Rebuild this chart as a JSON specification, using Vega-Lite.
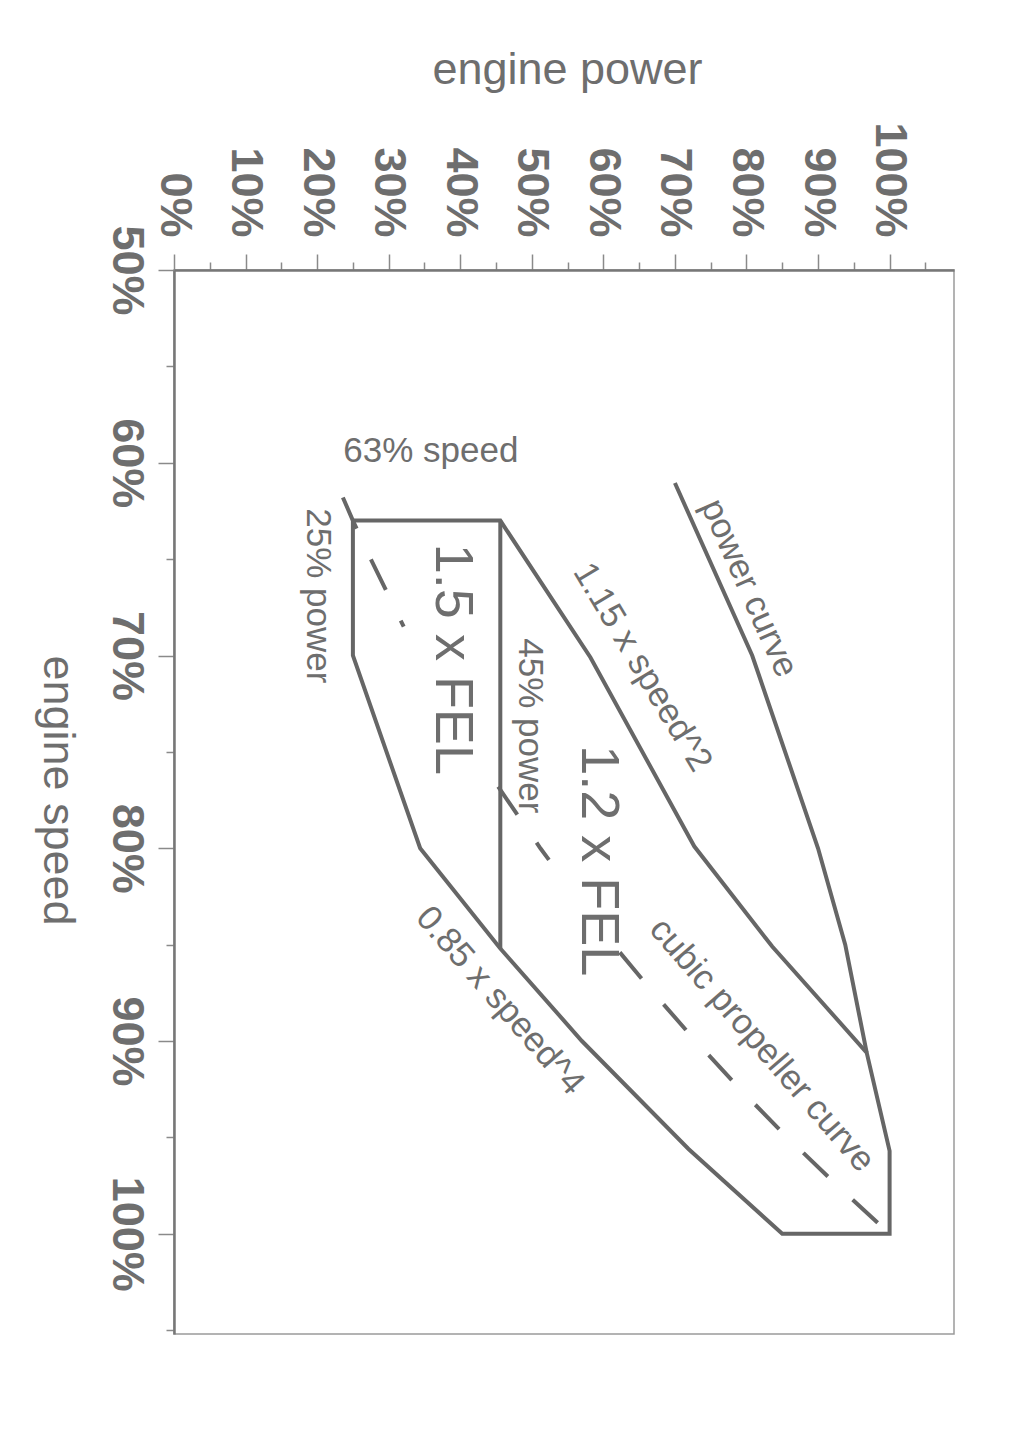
{
  "$schema": "https://vega.github.io/schema/vega-lite/v6.json",
  "width": 780,
  "height": 1064,
  "autosize": "none",
  "padding": {"left": 174, "top": 270, "right": 58, "bottom": 118},
  "background": "white",
  "config": {"view": {"stroke": "#9a9a9a", "strokeWidth": 1.5}, "font": "Liberation Sans"},
  "datasets": {
    "curves": [
      {"series": "power curve", "part": 1, "i": 0, "speed": 61.05, "power": 70.0},
      {"series": "power curve", "part": 1, "i": 1, "speed": 70, "power": 80.8},
      {"series": "power curve", "part": 1, "i": 2, "speed": 80, "power": 90.0},
      {"series": "power curve", "part": 1, "i": 3, "speed": 85, "power": 93.8},
      {"series": "power curve", "part": 1, "i": 4, "speed": 90.6, "power": 96.8},
      {"series": "FEL zone outline", "part": 1, "i": 0, "speed": 63, "power": 25},
      {"series": "FEL zone outline", "part": 1, "i": 1, "speed": 63, "power": 45.6},
      {"series": "FEL zone outline", "part": 1, "i": 2, "speed": 70.1, "power": 58.2},
      {"series": "FEL zone outline", "part": 1, "i": 3, "speed": 79.9, "power": 72.7},
      {"series": "FEL zone outline", "part": 1, "i": 4, "speed": 85.1, "power": 83.6},
      {"series": "FEL zone outline", "part": 1, "i": 5, "speed": 90.6, "power": 96.8},
      {"series": "FEL zone outline", "part": 1, "i": 6, "speed": 95.7, "power": 100},
      {"series": "FEL zone outline", "part": 1, "i": 7, "speed": 100, "power": 100},
      {"series": "FEL zone outline", "part": 1, "i": 8, "speed": 100, "power": 85},
      {"series": "FEL zone outline", "part": 1, "i": 9, "speed": 95.6, "power": 71.9},
      {"series": "FEL zone outline", "part": 1, "i": 10, "speed": 90, "power": 57.0},
      {"series": "FEL zone outline", "part": 1, "i": 11, "speed": 85.2, "power": 45.6},
      {"series": "FEL zone outline", "part": 1, "i": 12, "speed": 80, "power": 34.4},
      {"series": "FEL zone outline", "part": 1, "i": 13, "speed": 70, "power": 25},
      {"series": "FEL zone outline", "part": 1, "i": 14, "speed": 63, "power": 25},
      {"series": "45% power", "part": 1, "i": 0, "speed": 63, "power": 45.6},
      {"series": "45% power", "part": 1, "i": 1, "speed": 85.2, "power": 45.6},
      {"series": "cubic propeller curve", "part": 1, "i": 0, "speed": 61.8, "power": 23.6},
      {"series": "cubic propeller curve", "part": 1, "i": 1, "speed": 63, "power": 25.0},
      {"series": "cubic propeller curve", "part": 1, "i": 2, "speed": 65, "power": 27.5},
      {"series": "cubic propeller curve", "part": 1, "i": 3, "speed": 68.5, "power": 32.1},
      {"series": "cubic propeller curve", "part": 2, "i": 0, "speed": 76.8, "power": 45.3},
      {"series": "cubic propeller curve", "part": 2, "i": 1, "speed": 78, "power": 47.5},
      {"series": "cubic propeller curve", "part": 2, "i": 2, "speed": 80, "power": 51.2},
      {"series": "cubic propeller curve", "part": 2, "i": 3, "speed": 80.6, "power": 52.4},
      {"series": "cubic propeller curve", "part": 3, "i": 0, "speed": 85.4, "power": 62.3},
      {"series": "cubic propeller curve", "part": 3, "i": 1, "speed": 87.5, "power": 67.0},
      {"series": "cubic propeller curve", "part": 3, "i": 2, "speed": 90, "power": 72.9},
      {"series": "cubic propeller curve", "part": 3, "i": 3, "speed": 92.5, "power": 79.1},
      {"series": "cubic propeller curve", "part": 3, "i": 4, "speed": 95, "power": 85.7},
      {"series": "cubic propeller curve", "part": 3, "i": 5, "speed": 97.5, "power": 92.7},
      {"series": "cubic propeller curve", "part": 3, "i": 6, "speed": 100, "power": 100}
    ],
    "labels": [
      {"label": "63% speed", "speed": 59.4, "power": 35.9},
      {"label": "power curve", "speed": 66.5, "power": 80.4},
      {"label": "1.15 x speed^2", "speed": 70.6, "power": 65.5},
      {"label": "1.5 x FEL", "speed": 70.2, "power": 38.9},
      {"label": "1.2 x FEL", "speed": 80.65, "power": 59.2},
      {"label": "45% power", "speed": 73.65, "power": 49.7},
      {"label": "25% power", "speed": 66.9, "power": 20.1},
      {"label": "0.85 x speed^4", "speed": 87.9, "power": 45.6},
      {"label": "cubic propeller curve", "speed": 90.2, "power": 82.2}
    ]
  },
  "encoding": {
    "x": {
      "field": "power", "type": "quantitative",
      "scale": {"domain": [0, 109], "nice": false, "zero": false},
      "axis": {
        "orient": "top", "title": "engine power",
        "values": [0, 5, 10, 15, 20, 25, 30, 35, 40, 45, 50, 55, 60, 65, 70, 75, 80, 85, 90, 95, 100, 105],
        "labelExpr": "datum.value % 10 === 0 ? datum.value + '%' : ''",
        "labelAngle": 90, "labelAlign": "right", "labelBaseline": "middle",
        "labelFontSize": 45, "labelFontWeight": "bold", "labelColor": "#6e6e6e", "labelFont": "Liberation Sans",
        "labelPadding": 17, "labelOverlap": false, "labelFlush": false, "labelBound": false,
        "tickSize": {"condition": {"test": "datum.value % 10 === 0", "value": 16}, "value": 8},
        "tickColor": "#8a8a8a", "tickWidth": 1.5,
        "domainColor": "#777777", "domainWidth": 2.5, "grid": false,
        "titleFontSize": 45, "titleFontWeight": "normal", "titleColor": "#6e6e6e", "titleFont": "Liberation Sans",
        "titleX": 393, "titleY": -187, "titleAlign": "center", "titleBaseline": "alphabetic", "titleAngle": 0
      }
    },
    "y": {
      "field": "speed", "type": "quantitative",
      "scale": {"domain": [50, 105.2], "nice": false, "zero": false, "reverse": true},
      "axis": {
        "orient": "left", "title": "engine speed",
        "values": [50, 55, 60, 65, 70, 75, 80, 85, 90, 95, 100, 105],
        "labelExpr": "datum.value % 10 === 0 ? datum.value + '%' : ''",
        "labelAngle": 90, "labelAlign": "center", "labelBaseline": "top",
        "labelFontSize": 45, "labelFontWeight": "bold", "labelColor": "#6e6e6e", "labelFont": "Liberation Sans",
        "labelPadding": 10, "labelOverlap": false, "labelFlush": false, "labelBound": false,
        "tickSize": {"condition": {"test": "datum.value % 10 === 0", "value": 16}, "value": 8},
        "tickColor": "#8a8a8a", "tickWidth": 1.5,
        "domainColor": "#777777", "domainWidth": 2.5, "grid": false,
        "titleFontSize": 45, "titleFontWeight": "normal", "titleColor": "#6e6e6e", "titleFont": "Liberation Sans",
        "titleX": -117, "titleY": 520, "titleAlign": "center", "titleBaseline": "middle", "titleAngle": 90
      }
    }
  },
  "layer": [
    {
      "data": {"name": "curves"},
      "transform": [{"filter": "datum.series !== 'cubic propeller curve'"}],
      "mark": {"type": "line", "color": "#666666", "strokeWidth": 4, "strokeJoin": "miter", "strokeCap": "butt"},
      "encoding": {"detail": {"field": "series"}, "order": {"field": "i", "type": "quantitative"}}
    },
    {
      "data": {"name": "curves"},
      "transform": [{"filter": "datum.series === 'cubic propeller curve'"}],
      "mark": {"type": "line", "color": "#666666", "strokeWidth": 4, "strokeDash": [34, 34]},
      "encoding": {"detail": {"field": "part"}, "order": {"field": "i", "type": "quantitative"}}
    },
    {
      "data": {"name": "labels"},
      "transform": [{"filter": "datum.label === '63% speed'"}],
      "mark": {"type": "text", "angle": 0, "fontSize": 35, "color": "#6e6e6e", "font": "Liberation Sans", "align": "center", "baseline": "middle"},
      "encoding": {"text": {"field": "label"}}
    },
    {
      "data": {"name": "labels"},
      "transform": [{"filter": "datum.label === '25% power' || datum.label === '45% power'"}],
      "mark": {"type": "text", "angle": 90, "fontSize": 35, "color": "#6e6e6e", "font": "Liberation Sans", "align": "center", "baseline": "middle"},
      "encoding": {"text": {"field": "label"}}
    },
    {
      "data": {"name": "labels"},
      "transform": [{"filter": "datum.label === '1.5 x FEL' || datum.label === '1.2 x FEL'"}],
      "mark": {"type": "text", "angle": 90, "fontSize": 54, "color": "#6e6e6e", "font": "Liberation Sans", "align": "center", "baseline": "middle"},
      "encoding": {"text": {"field": "label"}}
    },
    {
      "data": {"name": "labels"},
      "transform": [{"filter": "datum.label === 'power curve'"}],
      "mark": {"type": "text", "angle": 66, "fontSize": 35, "color": "#6e6e6e", "font": "Liberation Sans", "align": "center", "baseline": "middle"},
      "encoding": {"text": {"field": "label"}}
    },
    {
      "data": {"name": "labels"},
      "transform": [{"filter": "datum.label === '1.15 x speed^2'"}],
      "mark": {"type": "text", "angle": 59, "fontSize": 35, "color": "#6e6e6e", "font": "Liberation Sans", "align": "center", "baseline": "middle"},
      "encoding": {"text": {"field": "label"}}
    },
    {
      "data": {"name": "labels"},
      "transform": [{"filter": "datum.label === '0.85 x speed^4' || datum.label === 'cubic propeller curve'"}],
      "mark": {"type": "text", "angle": 49, "fontSize": 35, "color": "#6e6e6e", "font": "Liberation Sans", "align": "center", "baseline": "middle"},
      "encoding": {"text": {"field": "label"}}
    }
  ]
}
